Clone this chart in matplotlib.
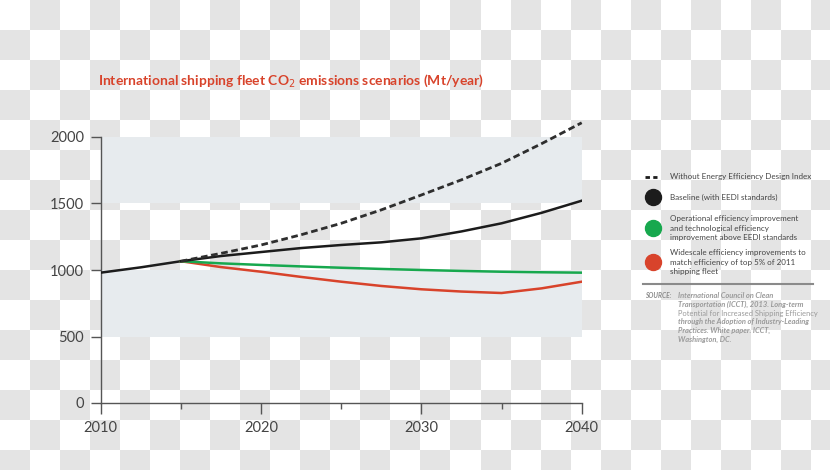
import numpy as np
import matplotlib.pyplot as plt
from matplotlib.lines import Line2D

# Data (Mt/year)
hist_years = [2010, 2012.5, 2015]
hist_vals = [980, 1020, 1066]

proj_years = [2015, 2017.5, 2020, 2022.5, 2025, 2027.5, 2030, 2032.5, 2035, 2037.5, 2040]
no_eedi = [1066, 1125, 1188, 1265, 1351, 1452, 1564, 1678, 1802, 1950, 2107]
baseline = [1066, 1105, 1135, 1165, 1188, 1208, 1238, 1290, 1351, 1430, 1521]
operational = [1066, 1050, 1038, 1027, 1017, 1008, 1000, 993, 987, 983, 980]
widescale = [1066, 1022, 987, 948, 912, 880, 855, 838, 827, 862, 912]

x_ticks = [2010, 2020, 2030, 2040]
x_minor = [2015, 2025, 2035]
y_ticks = [0, 500, 1000, 1500, 2000]

legend_labels = [
    "Without Energy Efficiency Design Index",
    "Baseline (with EEDI standards)",
    "Operational efficiency improvement\nand technological efficiency\nimprovement above EEDI standards",
    "Widescale efficiency improvements to\nmatch efficiency of top 5% of 2011\nshipping fleet",
]

BLACK = "#1c1c1c"
GREEN = "#17a84e"
RED = "#d8432b"
BAND = "#e7ebee"
TEXT = "#444444"

plt.rcParams['font.family'] = ['Lato', 'DejaVu Sans']

W, H = 830, 470
fig = plt.figure(figsize=(W / 100, H / 100), dpi=100)


def px(x, y):
    return x / W, 1 - y / H


# Checkerboard background
bg = fig.add_axes([0, 0, 1, 1], zorder=-10)
rows, cols = 16, 28
checker = (np.indices((rows, cols)).sum(axis=0) % 2).astype(float)
img = np.where(checker[..., None] == 1, [0.895, 0.895, 0.895], [1.0, 1.0, 1.0])
bg.imshow(img, extent=(0, cols * 30, rows * 30, 0), interpolation='nearest', aspect='auto')
bg.set_xlim(0, W)
bg.set_ylim(H, 0)
bg.axis('off')

# Main axes
ax = fig.add_axes([100.7 / W, 67 / H, 481 / W, 266 / H])
ax.patch.set_alpha(0)
ax.axhspan(1500, 2000, color=BAND, lw=0, zorder=0)
ax.axhspan(500, 1000, color=BAND, lw=0, zorder=0)

ax.plot(hist_years, hist_vals, color=BLACK, lw=1.8, solid_capstyle='butt', zorder=3)
ax.plot(proj_years, widescale, color=RED, lw=1.8, zorder=3)
ax.plot(proj_years, operational, color=GREEN, lw=1.8, zorder=3)
ax.plot(proj_years, baseline, color=BLACK, lw=1.8, zorder=4)
ax.plot(proj_years, no_eedi, color="#2e2e2e", lw=2.0, ls=(0, (2.4, 1.3)), clip_on=False, zorder=5)

ax.set_xlim(2010, 2040)
ax.set_ylim(0, 2000)
for s in ['top', 'right']:
    ax.spines[s].set_visible(False)
for s in ['left', 'bottom']:
    ax.spines[s].set_color("#555555")
    ax.spines[s].set_linewidth(1)

ax.set_xticks(x_ticks)
ax.set_xticks(x_minor, minor=True)
ax.set_yticks(y_ticks)
ax.tick_params(axis='x', which='major', length=8, width=1, color="#555555",
               labelsize=10.5, labelcolor=TEXT, pad=5)
ax.tick_params(axis='x', which='minor', length=4, width=1, color="#555555")
ax.tick_params(axis='y', length=7, width=1, color="#555555",
               labelsize=10.5, labelcolor=TEXT, pad=5)

# Title
fig.text(*px(98, 81), "International shipping fleet CO$_2$ emissions scenarios (Mt/year)",
         color=RED, fontsize=10, fontweight='bold', ha='left', va='center')

# Legend
fig.add_artist(Line2D([645 / W, 657 / W], [1 - 177 / H] * 2, color=BLACK, lw=2,
                      ls=(0, (1.6, 1.2))))
fig.text(*px(670, 177), legend_labels[0], fontsize=5.8, color=TEXT, va='center')

marker_y = [197, 228, 262]
marker_c = [BLACK, GREEN, RED]
for lab, yy, cc in zip(legend_labels[1:], marker_y, marker_c):
    fig.add_artist(Line2D([653 / W], [1 - yy / H], marker='o', markersize=11.5,
                          color=cc, lw=0))
    fig.text(*px(670, yy), lab, fontsize=5.8, color=TEXT, va='center', linespacing=1.35)

# Separator and source
fig.add_artist(Line2D([643 / W, 813 / W], [1 - 284 / H] * 2, color="#8a8a8a", lw=1.5))
fig.text(*px(645, 296), "SOURCE:", fontsize=4.8, color="#8a8a8a", fontweight='bold',
         style='italic', va='center')
source_lines = [
    ("International Council on Clean", 'bold'),
    ("Transportation (ICCT), 2013. Long-term", 'bold'),
    ("Potential for Increased Shipping Efficiency", 'normal'),
    ("through the Adoption of Industry-Leading", 'bold'),
    ("Practices. White paper. ICCT,", 'bold'),
    ("Washington, DC.", 'bold'),
]
for i, (line, wt) in enumerate(source_lines):
    fig.text(*px(678, 296 + i * 8.6), line, fontsize=5.4, color="#9a9a9a",
             fontweight=wt, style='italic' if wt == 'bold' else 'normal', va='center')

fig.savefig("out.png", dpi=100)
